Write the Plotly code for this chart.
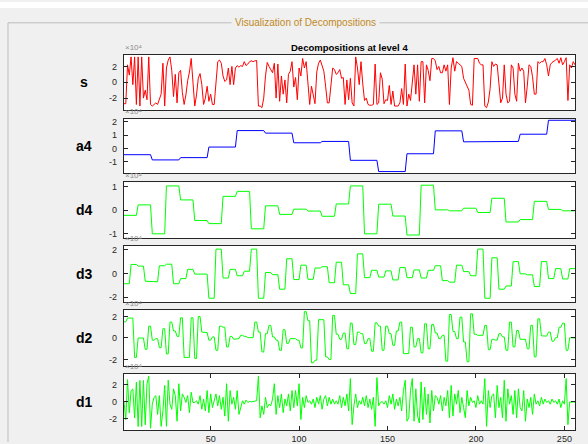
import numpy as np
import plotly.graph_objects as go

# ---------------- data (values in units of 1e4) ----------------
row_names = ["s", "a4", "d4", "d3", "d2", "d1"]

s_vals = [
    -2.7, -2.7, 2.2, 0.9, 3.2, -0.3, 3.2, -2.8, 3.2, -3.0,
    3.2, -2.0, -1.0, -2.2, 3.2, -2.8, -3.0, -2.8, -2.6, -2.8,
    -2.2, -1.5, 2.4, -3.0, 1.8, 2.8, 3.2, 1.5, -1.8, 1.0,
    -2.6, 1.2, 1.5, -1.3, -2.8, -1.6, 0.2, 1.3, 3.0, -0.5,
    -3.0, -1.6, 0.5, 1.1, -0.3, -2.8, -2.0, -0.5, -2.4, -1.5,
    -2.8, -2.8, 0.1, 2.6, 2.8, 2.4, 0.8, 0.1, 0.3, 1.8,
    -0.3, 2.0, -0.3, 1.8, 2.1, 1.9, 2.1, 2.0, 2.6, 2.1,
    2.3, 2.6, 2.7, 2.6, 2.7, 2.75, -3.0, -3.0, -3.2, -2.0,
    0.8, 2.5, 2.0, 1.5, 1.2, 2.4, -2.0, 2.3, -2.4, 0.8,
    -1.5, 0.3, -2.6, 1.0, 1.4, 2.6, -0.6, 0.6, -2.2, 1.8,
    0.8, 3.0, 1.8, 2.6, -0.3, -2.8, -0.5, -1.5, -2.7, 1.3,
    2.4, 2.8, 2.2, 1.4, -0.5, -2.6, -2.6, -0.2, 1.8, 1.6,
    1.0, 1.2, 1.6, 0.5, 0.6, -2.8, 0.3, -2.2, 0.5, -2.6,
    -3.0, 3.2, 1.8, -0.3, 2.6, -0.2, -2.3, -2.0, -2.8, -2.9,
    -2.9, -2.8, 2.3, -2.8, -2.6, 1.2, 0.4, -2.7, -2.2, -2.3,
    -0.4, -2.8, -1.1, -3.0, -3.0, -3.0, -2.6, -0.8, -2.8, 2.3,
    -3.0, -1.5, -2.3, 0.3, 2.2, -1.5, 2.2, -2.4, 2.6, 2.6,
    -2.6, 2.2, 1.5, 0.2, 3.0, 3.0, 2.7, 1.6, 2.0, 1.2,
    1.2, 2.2, 1.4, 2.2, -2.8, 1.8, 3.1, 1.4, 2.6, 2.4,
    2.2, 2.0, 0.5, 0.0, -0.5, -1.0, -2.8, -2.9, 3.0, 3.0,
    3.0, 2.4, 2.2, 2.2, -3.0, -3.2, -2.5, -0.8, 2.6, 2.0,
    2.3, 2.2, -0.5, -2.6, -2.0, 2.2, -1.5, -2.6, -2.4, 2.2,
    1.8, -1.5, -2.4, 2.4, 1.4, 1.8, 1.4, -2.6, -0.5, 2.2,
    2.0, 0.7, -1.5, -1.5, 2.6, 2.4, 2.6, 2.6, 3.0, 2.2,
    0.8, 2.2, 2.5, 2.6, 2.8, 3.0, 2.4, 3.1, 2.2, 2.6,
    3.1, -2.3, 2.2, 1.8, 2.6, 2.2,
]

# approximation a4: one value per 16-sample block
a4_blocks = [-0.47, -0.86, -0.69, 0.10, 1.33, 1.14, 0.42, 0.52,
             -0.89, -1.73, -0.40, 1.31, 0.49, 0.52, 1.06, 2.10]

# detail d4: one value per 8-sample block
d4_blocks = [-0.22, 0.22, -1.0, 1.02, 0.43, -0.44, -0.57, 0.58, 0.79, -0.79,
             0.18, -0.18, 0.04, -0.04, -0.26, 0.26, 1.02, -1.0, 0.25, -0.25,
             -1.05, 1.05, 0.01, -0.03, 0.08, -0.10, 0.50, -0.50, -0.40, 0.37,
             0.03, -0.03]

# detail d3: one value per 4-sample block
d3_blocks = [-0.86, 0.76, 0.62, -0.65, -0.70, 0.65, 0.78, -0.86, -0.43, 0.35,
             -0.05, -0.05, -2.08, 2.05, -0.38, 0.35, -0.19, 0.19, 2.05, -2.08,
             0.08, -0.10, -1.32, 1.24, -0.51, 0.70, -0.49, 0.46, 0.57, -0.78,
             0.95, -0.95, -1.68, 1.65, -0.35, 0.27, -0.30, 0.22, -0.54, 0.51,
             -0.35, 0.30, -0.38, 0.27, 0.65, -0.60, -0.73, 0.70, 0.16, -0.19,
             2.05, -2.08, 1.32, -1.32, -1.05, 1.00, -0.03, -0.11, -1.10, 1.00,
             -0.43, 0.41, -0.46, 0.41]

# detail d2: one value per 2-sample block
d2_blocks = [1.5, 1.85, 1.85, -1.8, 0.0, 0.0, -1.05, 1.1, -0.2, -0.06,
             -0.9, 0.86, -1.48, 1.48, 0.65, 0.15, 1.88, -1.8, -1.8, 1.88,
             -1.9, 2.0, 0.55, 0.5, -0.2, 0.1, -1.14, 1.1, 1.0, -0.83,
             0.15, -0.12, -0.06, 0.25, 0.15, 0.03, 0.03, 1.48, 0.55, -1.3,
             0.4, 1.17, 0.1, -0.2, -1.14, 0.77, -0.5, -0.06, -0.06, -0.2,
             -0.92, 2.45, 1.6, -2.3, -2.06, 1.7, 1.7, -1.75, -2.0, 2.1,
             0.35, -0.12, 0.46, -1.0, 1.38, -0.6, 0.55, 0.4, -0.52, -0.06,
             -1.23, 1.41, 1.1, -1.14, 1.1, 0.4, -0.68, 0.65, 1.48, -1.45,
             -1.45, 1.0, -0.83, -0.06, -1.38, 1.32, -1.0, 1.26, 0.46, -0.06,
             0.25, -2.15, 2.18, 0.6, -0.06, 1.94, -0.37, -2.2, 2.25, 0.35,
             0.25, 0.25, 1.17, -1.08, -0.12, -0.2, 0.4, 0.1, -1.14, 1.48,
             -0.83, 0.7, -0.12, -0.12, -1.0, 1.17, -1.75, 1.78, 0.2, 0.18,
             0.55, -0.3, 0.03, 1.0, 1.38, -1.14, 0.03, 0.0]

d1_vals = [
    0, -2.1, 2.6, -1.3, 1.3, 1.5, -1.9, 2.3, -2.9, 2.5, -2.9, 2.5, -2.7, 2.1, 3.0, -3.1,
    -0.28, 0.52, 0.72, -1.48, 0.72, -2.88, -1.08, 1.92, -2.88, 2.52, -0.28, -0.88, 1.52, 0.72, -2.28, 2.12, -1.08, 0.92,
    0.52, -0.08, 0.72, -1.28, 1.12, -0.08, -0.08, 0.12, -0.28, 0.72, -0.88, 0.32, -1.08, 1.32, -1.28, 0.92,
    -0.68, 0.12, 0.92, -0.48, 0.72, -0.88, 0.52, -1.68, 2.12, -2.28, 1.32, -0.28, 0.52, -0.88, 1.32, -1.48,
    -0.48, 0.12, -0.28, 0.2, -0.08, 0.04, 0, 0.04, 0, 0.12, 3.0, -1.88, -0.48, -1.48, 0.52, -0.68,
    -0.28, -0.48, 0.32, 2.12, -1.48, 0.72, -0.68, 0.92, -1.28, 0.32, -0.48, 0.92, -1.08, 1.32, -0.68, 1.32,
    -0.48, 2.12, -2.08, 0.52, -0.68, 0.72, -0.08, 0.12, -0.28, 0.32, -0.68, 0.52, -0.28, 0.72, -0.88, 0.32,
    0.72, -0.48, 0.52, -0.28, 0.32, -0.28, 0.12, -0.28, 0.72, -0.68, 0.52, -0.48, 0.92, -1.08, 2.72, -2.68,
    -0.48, 0.92, -0.68, 0.12, -0.28, 0.52, -0.48, 0.72, -0.68, 0.32, -0.88, 0.52, -2.88, 2.84, -0.48,
    -0.08, 0.04, -0.28, 0.12, -0.68, 0.72, -0.28, 0.92, -0.88, 0.32, -0.48, 0.52, -1.08, 1.32, 2.52, -2.28,
    -1.88, 1.32, 2.72, -2.28, 1.52, -1.68, -2.48, 2.32, -2.08, 1.72, -1.48, 0.92, -2.48, 1.32, -1.08, 0.72,
    0.52, -0.28, 0.72, -1.08, 0.52, -0.48, 1.32, -1.88, 1.92, -1.68, 0.92, -0.28, 1.32, -1.28, 0.52, -0.68,
    -1.88, 1.32, -0.48, 0.52, -0.08, 0.12, -0.68, 0.72, -0.28, 0.12, -0.28, 2.72, -2.88, 1.32, -0.68, 0.72,
    0.92, -1.88, 1.92, -0.68, 0.52, -1.88, 2.52, -2.28, 1.52, -0.28, 0.72, -1.48, 1.32, -1.88, 1.52, -0.68,
    -1.08, 1.32, -2.28, 0.32, -0.68, 0.52, -1.48, 0.92, -0.28, 0.12, -0.48, 0.52, -0.28, 0.32, -0.08, 0.12,
    -0.28, 0.32, -0.08, 0.12, -0.28, 0.32, -0.68, 0.12, -0.28, 2.72, -2.68, 0, -0.08, 0, -0.08,
]

y_ranges = [[-3.5, 3.5], [-1.87, 2.2], [-1.17, 1.17], [-2.42, 2.33], [-2.57, 2.58], [-3.32, 3.3]]
y_ticks = [[-2, 0, 2], [-1, 0, 1, 2], [-1, 0, 1], [-2, 0, 2], [-2, 0, 2], [-2, 0, 2]]
x_ticks = [50, 100, 150, 200, 250]
colors = ["#ff0000", "#0000ff", "#00ff00", "#00ff00", "#00ff00", "#00ff00"]

series = [
    np.array(s_vals),
    np.repeat(a4_blocks, 16),
    np.repeat(d4_blocks, 8),
    np.repeat(d3_blocks, 4),
    np.repeat(d2_blocks, 2),
    np.array(d1_vals),
]

# ---------------- layout geometry (pixels) ----------------
W, H = 588, 444
panel_px = [(53, 109), (118, 173), (182, 238), (246, 303), (311, 367), (375, 432)]
x_left, x_right = 124, 575


def px(x):
    return x / W


def py(y):
    return 1 - y / H


fig = go.Figure()
FAMILY = "Liberation Sans, Arial, sans-serif"
axis_font = dict(family=FAMILY, size=9, color="#262626")
layout = dict(
    width=W, height=H, margin=dict(l=0, r=0, t=0, b=0),
    paper_bgcolor="#f0f0f0", plot_bgcolor="#ffffff", showlegend=False,
    font=axis_font,
)

annotations = []
for k, (name, ys) in enumerate(zip(row_names, series)):
    idx = "" if k == 0 else str(k + 1)
    xs = np.arange(1, len(ys) + 1)
    fig.add_trace(go.Scatter(x=xs, y=ys, mode="lines",
                             line=dict(color=colors[k], width=1),
                             xaxis="x" + idx, yaxis="y" + idx, hoverinfo="skip"))
    top, bot = panel_px[k]
    last = (k == len(row_names) - 1)
    layout["xaxis" + idx] = dict(
        domain=[px(x_left), px(x_right)], range=[1, 256], anchor="y" + idx,
        showline=True, linecolor="#262626", linewidth=1.2,
        mirror="ticks" if last else True,
        ticks="inside" if last else "", ticklen=4, tickcolor="#262626",
        tickvals=x_ticks if last else None, showticklabels=last,
        showgrid=False, zeroline=False, tickfont=axis_font,
    )
    layout["yaxis" + idx] = dict(
        domain=[py(bot), py(top)], range=y_ranges[k], anchor="x" + idx,
        showline=True, linecolor="#262626", linewidth=1.2, mirror="ticks",
        ticks="inside", ticklen=4, tickcolor="#262626",
        tickvals=y_ticks[k], ticktext=[str(v) for v in y_ticks[k]],
        showgrid=False, zeroline=False, tickfont=axis_font, ticklabelstandoff=4,
    )
    # row label
    annotations.append(dict(
        text="<b>%s</b>" % name, x=px(84), y=py((top + bot) / 2), xref="paper", yref="paper",
        xanchor="center", yanchor="middle", showarrow=False,
        font=dict(family=FAMILY, size=14, color="#000000"),
    ))
    # exponent label
    annotations.append(dict(
        text="×10⁴", x=px(123), y=py(top - 0.5), xref="paper", yref="paper",
        xanchor="left", yanchor="bottom", showarrow=False,
        font=dict(family=FAMILY, size=8, color="#8c8c8c"),
    ))

annotations.append(dict(
    text="<b>Decompositions at level 4</b>", x=px((x_left + x_right) / 2), y=py(46),
    xref="paper", yref="paper", xanchor="center", yanchor="middle", showarrow=False,
    font=dict(family=FAMILY, size=9.5, color="#000000"),
))
annotations.append(dict(
    text="Visualization of Decompositions", x=px(305), y=py(21),
    xref="paper", yref="paper", xanchor="center", yanchor="middle", showarrow=False,
    bgcolor="#f0f0f0", borderpad=3,
    font=dict(family=FAMILY, size=10, color="#c08a24"),
))

shapes = [
    dict(type="rect", xref="paper", yref="paper", x0=0, x1=1, y0=py(6), y1=1,
         fillcolor="#ffffff", line=dict(width=0), layer="below"),
    dict(type="line", xref="paper", yref="paper", x0=px(8), x1=1, y0=py(21), y1=py(21),
         line=dict(color="#bdbdbd", width=1), layer="below"),
    dict(type="line", xref="paper", yref="paper", x0=px(8), x1=px(8), y0=0, y1=py(21),
         line=dict(color="#bdbdbd", width=1), layer="below"),
]

layout["annotations"] = annotations
layout["shapes"] = shapes
fig.update_layout(**layout)
fig.write_html("out.html")
